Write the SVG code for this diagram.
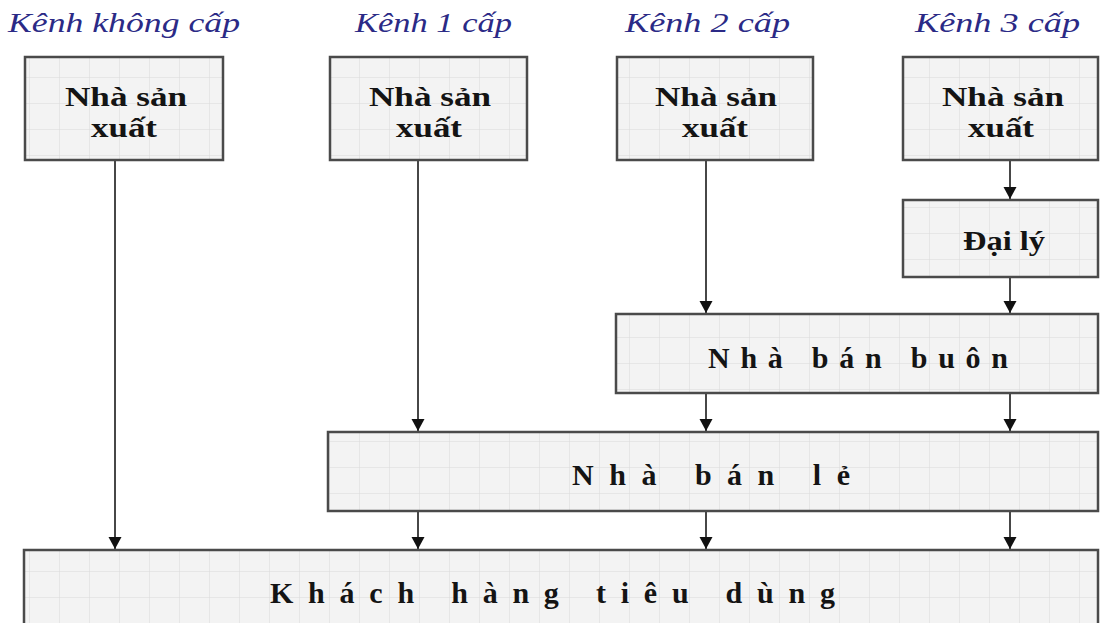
<svg xmlns="http://www.w3.org/2000/svg" width="1100" height="623" viewBox="0 0 1100 623">
  <style>
    .hdr { font-style: italic; font-size: 27px; fill: #2b2a86; }
    .box { fill: url(#grid); stroke: #4a4a4a; stroke-width: 2.5; }
    .lbl { font-weight: bold; font-size: 28px; fill: #141414; }
    .wide { font-weight: bold; font-size: 30px; fill: #141414; }
    .conn { stroke: #333; stroke-width: 1.8; fill: none; marker-end: url(#arrow); }
  </style>
  <defs>
    <pattern id="grid" patternUnits="userSpaceOnUse" width="30" height="26">
      <rect width="30" height="26" fill="#f3f3f3"/>
      <path d="M30 0 V26 M0 26 H30" stroke="#dadada" stroke-width="1" fill="none"/>
    </pattern>
    <marker id="arrow" markerWidth="14" markerHeight="14" refX="12" refY="7" orient="auto" markerUnits="userSpaceOnUse">
      <path d="M0 0.5 L12 7 L0 13.5 Z" fill="#111"/>
    </marker>
  </defs>
  <rect width="1100" height="623" fill="#fff"/>

  <g font-family="'Liberation Serif', 'Times New Roman', serif">
  <!-- channel headings -->
  <g id="headings">
    <text class="hdr" x="8" y="32" textLength="232" lengthAdjust="spacingAndGlyphs">Kênh không cấp</text>
    <text class="hdr" x="355" y="32" textLength="157" lengthAdjust="spacingAndGlyphs">Kênh 1 cấp</text>
    <text class="hdr" x="625" y="32" textLength="165" lengthAdjust="spacingAndGlyphs">Kênh 2 cấp</text>
    <text class="hdr" x="915" y="32" textLength="165" lengthAdjust="spacingAndGlyphs">Kênh 3 cấp</text>
  </g>

  <!-- connectors -->
  <g id="connectors">
    <line class="conn" x1="115" y1="161" x2="115" y2="549"/>
    <line class="conn" x1="418" y1="161" x2="418" y2="431"/>
    <line class="conn" x1="418" y1="512" x2="418" y2="549"/>
    <line class="conn" x1="706" y1="161" x2="706" y2="313"/>
    <line class="conn" x1="706" y1="394" x2="706" y2="431"/>
    <line class="conn" x1="706" y1="512" x2="706" y2="549"/>
    <line class="conn" x1="1010" y1="161" x2="1010" y2="199"/>
    <line class="conn" x1="1010" y1="278" x2="1010" y2="313"/>
    <line class="conn" x1="1010" y1="394" x2="1010" y2="431"/>
    <line class="conn" x1="1010" y1="512" x2="1010" y2="549"/>
  </g>

  <g id="producer-0">
    <rect class="box" x="25" y="57" width="198" height="103"/>
    <text class="lbl" x="65" y="106" textLength="122" lengthAdjust="spacingAndGlyphs">Nhà sản</text>
    <text class="lbl" x="91" y="137" textLength="66" lengthAdjust="spacingAndGlyphs">xuất</text>
  </g>
  <g id="producer-1">
    <rect class="box" x="330" y="57" width="197" height="103"/>
    <text class="lbl" x="369" y="106" textLength="122" lengthAdjust="spacingAndGlyphs">Nhà sản</text>
    <text class="lbl" x="396" y="137" textLength="66" lengthAdjust="spacingAndGlyphs">xuất</text>
  </g>
  <g id="producer-2">
    <rect class="box" x="617" y="57" width="196" height="103"/>
    <text class="lbl" x="655" y="106" textLength="122" lengthAdjust="spacingAndGlyphs">Nhà sản</text>
    <text class="lbl" x="682" y="137" textLength="66" lengthAdjust="spacingAndGlyphs">xuất</text>
  </g>
  <g id="producer-3">
    <rect class="box" x="903" y="57" width="195" height="103"/>
    <text class="lbl" x="942" y="106" textLength="122" lengthAdjust="spacingAndGlyphs">Nhà sản</text>
    <text class="lbl" x="968" y="137" textLength="66" lengthAdjust="spacingAndGlyphs">xuất</text>
  </g>

  <g id="agent">
    <rect class="box" x="903" y="200" width="195" height="77"/>
    <text class="lbl" x="963" y="250" font-size="25" textLength="82" lengthAdjust="spacingAndGlyphs">Đại lý</text>
  </g>

  <g id="wholesaler">
    <rect class="box" x="616" y="314" width="482" height="79"/>
    <text class="wide" x="708" y="368" textLength="300" lengthAdjust="spacing">Nhà bán buôn</text>
  </g>

  <g id="retailer">
    <rect class="box" x="328" y="432" width="770" height="79"/>
    <text class="wide" x="572" y="485" textLength="278" lengthAdjust="spacing">Nhà bán lẻ</text>
  </g>

  <g id="consumer">
    <rect class="box" x="24" y="550" width="1074" height="90"/>
    <text class="wide" x="270" y="603" textLength="565" lengthAdjust="spacing">Khách hàng tiêu dùng</text>
  </g>
  </g>
</svg>
